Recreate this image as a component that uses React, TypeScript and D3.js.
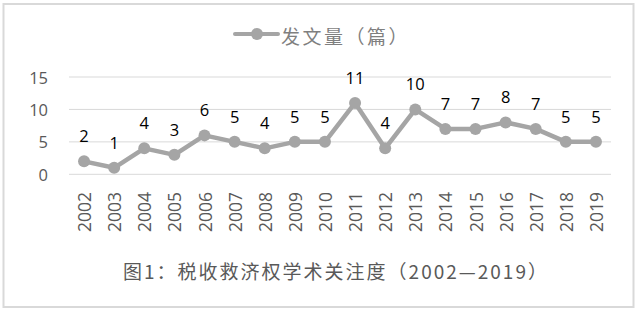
import React from "react";
import * as d3 from "d3";

const years = ["2002","2003","2004","2005","2006","2007","2008","2009","2010","2011","2012","2013","2014","2015","2016","2017","2018","2019"];
const counts = [2,1,4,3,6,5,4,5,5,11,4,10,7,7,8,7,5,5];
const yTicks = [0,5,10,15];
const seriesName = "发文量（篇）";
const chartTitle = "图1：税收救济权学术关注度（2002—2019）";

const W = 640, H = 311;
const LINE = "#a5a5a5";
const GRID = "#d9d9d9";
const NUM_FONT = "'Open Sans', 'Noto Sans', sans-serif";
const CJK_FONT = "'Noto Sans CJK SC', sans-serif";

export default function App() {
  const x = d3.scaleBand<string>().domain(years).range([69, 611]);
  const y = d3.scaleLinear().domain([0, 15]).range([174.3, 77]);
  const cx = (d: string) => (x(d) as number) + x.bandwidth() / 2;
  const line = d3.line<number>().x((_, i) => cx(years[i])).y(v => y(v));

  return (
    <svg width={W} height={H} style={{ position: "absolute", left: 0, top: 0, background: "#fff" }}>
      <rect x={0} y={0} width={W} height={H} fill="#fff" />
      <rect x={3.5} y={4} width={630} height={303} fill="#fff" stroke={GRID} strokeWidth={2} />
      {/* legend */}
      <g>
        <line x1={235} x2={278} y1={34} y2={34} stroke={LINE} strokeWidth={4} strokeLinecap="round" />
        <circle cx={257} cy={34} r={6} fill={LINE} />
        <text x={281} y={35} fontFamily={CJK_FONT} fontSize={19} letterSpacing={2.5} fill="#7f7f7f" dominantBaseline="central">{seriesName}</text>
      </g>
      {/* gridlines & y ticks */}
      {yTicks.map(t => (
        <g key={t}>
          <line x1={69} x2={611} y1={y(t)} y2={y(t)} stroke={GRID} strokeWidth={1} />
          <text x={48} y={y(t)} textAnchor="end" dominantBaseline="central" fontFamily={NUM_FONT} fontSize={16.5} fill="#595959">{t}</text>
        </g>
      ))}
      {/* x labels */}
      {years.map(yr => (
        <text key={yr} transform={`translate(${cx(yr)},192) rotate(-90)`} textAnchor="end" dominantBaseline="central" fontFamily={NUM_FONT} fontSize={17.5} fill="#595959">{yr}</text>
      ))}
      {/* line */}
      <path d={line(counts) || ""} fill="none" stroke={LINE} strokeWidth={4.5} strokeLinejoin="round" />
      {counts.map((v, i) => (
        <circle key={i} cx={cx(years[i])} cy={y(v)} r={6} fill={LINE} />
      ))}
      {counts.map((v, i) => (
        <text key={"l" + i} x={cx(years[i])} y={y(v) - 19} textAnchor="middle" fontFamily={NUM_FONT} fontSize={16.5} fill="#000">{v}</text>
      ))}
      {/* title */}
      <text x={336} y={270} textAnchor="middle" dominantBaseline="central" fontFamily={CJK_FONT} fontSize={19} letterSpacing={2} fill="#595959">{chartTitle}</text>
    </svg>
  );
}
